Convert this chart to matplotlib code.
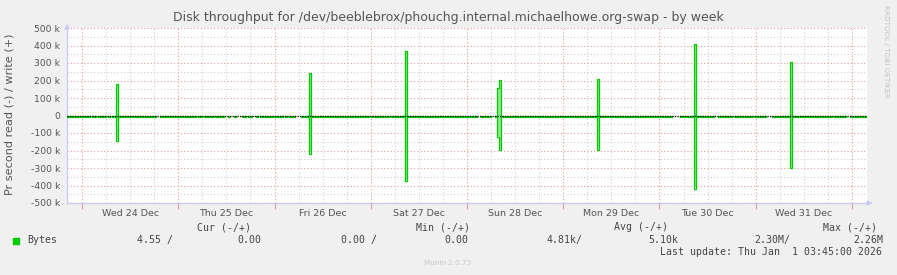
import numpy as np
import matplotlib
matplotlib.use("Agg")
import matplotlib.pyplot as plt
import matplotlib.dates as mdates
import matplotlib.transforms as mtrans
from matplotlib.ticker import MultipleLocator, FuncFormatter
from datetime import datetime, timedelta

# ---------------- data ----------------
t0 = datetime(2025, 12, 24, 0, 0)
x_start = datetime(2025, 12, 23, 20, 15)
x_end = datetime(2026, 1, 1, 3, 45)

# spikes: hours after Wed 24 Dec 00:00, write (+) and read (-) bytes/s
spike_hours = [8.5, 56.5, 80.5, 103.5, 104.0, 128.5, 152.5, 176.5]
spike_write = [178000, 243000, 368000, 160000, 202000, 208000, 410000, 306000]
spike_read = [140000, 210000, 368000, 115000, 190000, 190000, 410000, 295000]

# missing-data intervals (hours after Wed 24 Dec 00:00)
gaps = [(1.6, 2.25), (3.2, 3.8), (5.7, 6.3), (6.8, 7.4), (18.2, 19.2),
        (28.2, 28.6), (29.8, 30.3), (32.7, 33.2), (35.4, 36.1), (36.9, 37.7),
        (38.4, 39.8), (40.6, 41.1), (42.1, 43.4), (44.0, 44.4), (47.1, 47.5),
        (49.8, 50.4), (51.0, 51.5), (52.9, 54.2), (55.6, 56.0), (71.4, 71.8),
        (76.4, 76.8), (98.4, 99.2), (101.7, 103.0), (147.0, 148.7),
        (157.4, 158.1), (161.8, 162.4), (166.6, 167.2), (170.1, 171.6),
        (187.0, 187.5), (190.5, 191.5)]

yticks_major = [-500000, -400000, -300000, -200000, -100000, 0,
                100000, 200000, 300000, 400000, 500000]

title = "Disk throughput for /dev/beeblebrox/phouchg.internal.michaelhowe.org-swap - by week"
ylabel = "Pr second read (-) / write (+)"
series_name = "Bytes"
cur_vals = ("4.55 /", "0.00")
min_vals = ("0.00 /", "0.00")
avg_vals = ("4.81k/", "5.10k")
max_vals = ("2.30M/", "2.26M")
last_update = "Last update: Thu Jan  1 03:45:00 2026"
footer = "Munin 2.0.73"
side_text = "RRDTOOL / TOBI OETIKER"

# ---------------- build series (30-min samples) ----------------
hours = np.arange(-4.0, 196.0, 0.5)
write = np.zeros_like(hours)
read = np.zeros_like(hours)
for (a, b) in gaps:
    m = (hours >= a) & (hours < b)
    write[m] = np.nan
    read[m] = np.nan
for h, w, r in zip(spike_hours, spike_write, spike_read):
    i = int(np.argmin(np.abs(hours - h)))
    write[i] = w
    read[i] = r
times = [t0 + timedelta(hours=float(h)) for h in hours]
tnum = mdates.date2num(times)

# ---------------- figure ----------------
W, H = 897, 275
fig = plt.figure(figsize=(W / 100, H / 100), dpi=100, facecolor="#f0f0f0")
ax = fig.add_axes([67 / W, (H - 203) / H, 800 / W, 175 / H])
ax.set_facecolor("white")

green = "#00cc00"
light = "#90e890"

ax.fill_between(tnum, 0, write, step="post", color=light, lw=0, zorder=2)
ax.fill_between(tnum, 0, -read, step="post", color=light, lw=0, zorder=2)
ax.plot(tnum, write, drawstyle="steps-post", color=green, lw=0.9, zorder=3)
off = mtrans.offset_copy(ax.transData, fig=fig, x=0, y=-1.3, units="dots")
ax.plot(tnum, -read, drawstyle="steps-post", color=green, lw=0.9, zorder=3,
        transform=off)
ax.axhline(0, color="black", lw=0.9, ls=(0, (1, 1)), zorder=4)

ax.set_xlim(mdates.date2num(x_start), mdates.date2num(x_end))
ax.set_ylim(-500000, 500000)

# grid
ax.xaxis.set_major_locator(mdates.DayLocator())
ax.xaxis.set_minor_locator(mdates.HourLocator(byhour=[6, 12, 18]))
ax.xaxis.set_major_formatter(FuncFormatter(lambda v, p: ""))


def minor_fmt(v, p):
    d = mdates.num2date(v)
    if d.hour == 12:
        return d.strftime("%a %d Dec")
    return ""


ax.xaxis.set_minor_formatter(FuncFormatter(minor_fmt))
ax.set_yticks(yticks_major)
ax.yaxis.set_minor_locator(MultipleLocator(50000))
ax.yaxis.set_major_formatter(
    FuncFormatter(lambda v, p: "0" if v == 0 else f"{int(round(v / 1000))} k"))

ax.grid(which="major", color="#e49a9a", lw=0.8, ls=(0, (1, 2)), zorder=1)
ax.grid(which="minor", color="#cfcfcf", lw=0.8, ls=(0, (1, 2)), zorder=0)

ax.tick_params(axis="x", which="major", length=4, color="#e49a9a", width=0.8,
               direction="out")
ax.tick_params(axis="x", which="minor", length=0, pad=4, labelsize=6.8,
               labelcolor="#555555")
ax.tick_params(axis="y", which="both", length=0, pad=5, labelsize=6.7,
               labelcolor="#555555")

for s in ("top", "right"):
    ax.spines[s].set_visible(False)
for s in ("left", "bottom"):
    ax.spines[s].set_color("#c8c8f8")
    ax.spines[s].set_linewidth(0.9)

# axis arrows
ax.annotate("", xy=(1.0105, 0), xytext=(0.999, 0), xycoords="axes fraction",
            arrowprops=dict(arrowstyle="-|>", color="#c8c8f8", lw=0.9,
                            mutation_scale=7), annotation_clip=False)
ax.annotate("", xy=(0, 1.04), xytext=(0, 0.99), xycoords="axes fraction",
            arrowprops=dict(arrowstyle="-|>", color="#c8c8f8", lw=0.9,
                            mutation_scale=7), annotation_clip=False)

# texts
fig.text(448 / W, 1 - 18 / H, title, ha="center", va="center", fontsize=9.0,
         color="#555555")
fig.text(10 / W, 1 - 114 / H, ylabel, ha="center", va="center",
         rotation=90, fontsize=8.1, color="#555555")
fig.text(886 / W, 1 - 5 / H, side_text, ha="center", va="top", rotation=270,
         fontsize=5.2, color="#c4c4c4")

mono = "DejaVu Sans Mono"
fs = 7.1
tc = "#444444"


def rt(x, y, s, ha="right"):
    fig.text(x / W, 1 - y / H, s, ha=ha, va="center", fontsize=fs,
             family=mono, color=tc)


rt(251, 227, "Cur (-/+)")
rt(470, 227, "Min (-/+)")
rt(668, 227, "Avg (-/+)")
rt(877, 227, "Max (-/+)")

fig.patches.append(plt.Rectangle((13 / W, 1 - 243.5 / H), 6 / W, 6 / H,
                                 transform=fig.transFigure, color=green))
rt(27, 240, series_name, ha="left")
rt(173, 240, cur_vals[0])
rt(261, 240, cur_vals[1])
rt(377, 240, min_vals[0])
rt(468, 240, min_vals[1])
rt(583, 240, avg_vals[0])
rt(678, 240, avg_vals[1])
rt(790, 240, max_vals[0])
rt(883, 240, max_vals[1])
rt(882, 252, last_update)

fig.text(448 / W, 1 - 263 / H, footer, ha="center", va="center", fontsize=5.2,
         color="#c8c8c8")

fig.savefig("out.png", dpi=100, facecolor=fig.get_facecolor())
